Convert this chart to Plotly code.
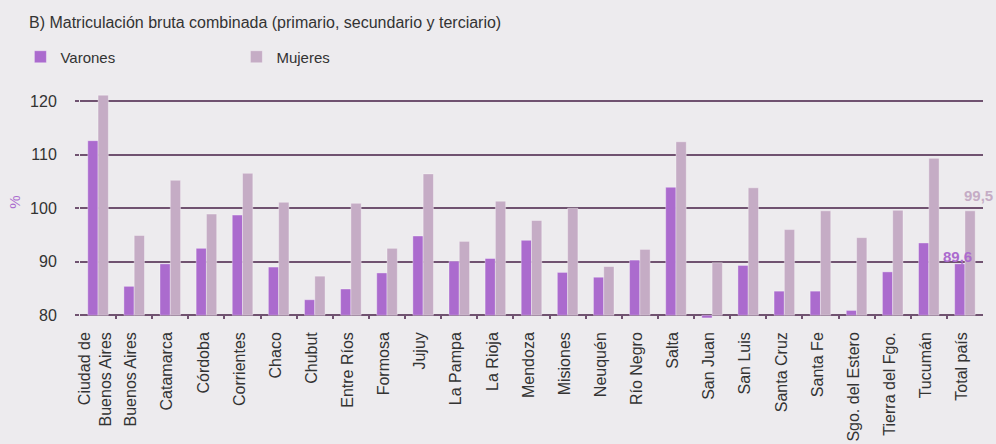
import plotly.graph_objects as go

categories = ["Ciudad de<br>Buenos Aires", "Buenos Aires", "Catamarca", "Córdoba", "Corrientes",
              "Chaco", "Chubut", "Entre Ríos", "Formosa", "Jujuy", "La Pampa", "La Rioja",
              "Mendoza", "Misiones", "Neuquén", "Río Negro", "Salta", "San Juan", "San Luis",
              "Santa Cruz", "Santa Fe", "Sgo. del Estero", "Tierra del Fgo.", "Tucumán", "Total país"]
varones = [112.6, 85.4, 89.6, 92.5, 98.7, 89.0, 82.9, 84.9, 87.9, 94.8, 90.1, 90.6,
           94.0, 88.0, 87.1, 90.3, 103.9, 79.5, 89.3, 84.5, 84.5, 80.9, 88.1, 93.5, 89.6]
mujeres = [121.1, 94.9, 105.2, 98.9, 106.5, 101.1, 87.3, 100.9, 92.5, 106.4, 93.8, 101.3,
           97.7, 100.0, 89.1, 92.3, 112.4, 89.8, 103.8, 96.0, 99.5, 94.5, 99.6, 109.3, 99.5]
y_ticks = [80, 90, 100, 110, 120]
axis_base = 80
total_labels = {"Varones": "89,6", "Mujeres": "99,5"}

C_V = "rgb(171,107,206)"
C_M = "rgb(197,172,197)"
BG = "rgb(237,235,238)"
GRID = "rgb(112,82,112)"
TXT = "rgb(51,51,51)"
FONT = "Liberation Sans, Arial, sans-serif"

fig = go.Figure()
fig.add_trace(go.Bar(name="Varones", x=categories, y=[v - axis_base for v in varones], base=axis_base,
                     marker=dict(color=C_V, line=dict(color="rgba(255,255,255,0.35)", width=1))))
fig.add_trace(go.Bar(name="Mujeres", x=categories, y=[v - axis_base for v in mujeres], base=axis_base,
                     marker=dict(color=C_M, line=dict(color="rgba(255,255,255,0.35)", width=1))))

fig.add_annotation(x=categories[-1], y=mujeres[-1], text="<b>" + total_labels["Mujeres"] + "</b>",
                   showarrow=False, xanchor="left", yanchor="middle", xshift=-3, yshift=15,
                   font=dict(family=FONT, size=15, color=C_M))
fig.add_annotation(x=categories[-1], y=varones[-1], text="<b>" + total_labels["Varones"] + "</b>",
                   showarrow=False, xanchor="left", yanchor="middle", xshift=-24, yshift=7,
                   font=dict(family=FONT, size=15, color=C_V))

fig.update_layout(
    width=996, height=444, autosize=False,
    paper_bgcolor=BG, plot_bgcolor=BG,
    margin=dict(l=80, r=13, t=85, b=125, autoexpand=False),
    barmode="group", bargap=0.43, bargroupgap=0,
    font=dict(family=FONT, size=16, color=TXT),
    title=dict(text="B) Matriculación bruta combinada (primario, secundario y terciario)",
               x=29 / 996, xanchor="left", xref="container",
               y=1 - 22 / 444, yanchor="middle", yref="container",
               font=dict(family=FONT, size=16, color=TXT)),
    legend=dict(orientation="h", x=-0.066, xanchor="left", y=1 + 28 / 234, yanchor="middle",
                entrywidth=171, entrywidthmode="pixels", bgcolor="rgba(0,0,0,0)",
                font=dict(family=FONT, size=15, color=TXT)),
    showlegend=True,
)
fig.update_xaxes(
    type="category", range=[-0.5, len(categories) - 0.5], autorange=False,
    tickangle=-90, ticks="inside", ticklen=4, tickcolor=GRID, tickwidth=1.5,
    tickson="boundaries", showgrid=False, showline=False, zeroline=False, automargin=False,
    ticklabelstandoff=9, ticklabelshift=-3,
    tickfont=dict(family=FONT, size=16, color=TXT),
)
fig.update_yaxes(
    range=[79.3, 123], autorange=False, tickvals=y_ticks, ticktext=[str(t) for t in y_ticks],
    showgrid=True, gridcolor=GRID, gridwidth=1.5, zeroline=False, showline=False,
    ticks="outside", ticklen=4, tickcolor=GRID, tickwidth=1.5, automargin=False,
    ticklabelstandoff=15,
    tickfont=dict(family=FONT, size=16, color=TXT),
    title=dict(text="%", standoff=5, font=dict(family=FONT, size=15, color=C_V)),
)

fig.write_html("out.html",
               config={"responsive": False, "displayModeBar": False},
               post_script="document.body.style.margin='0';document.body.style.overflow='hidden';")
